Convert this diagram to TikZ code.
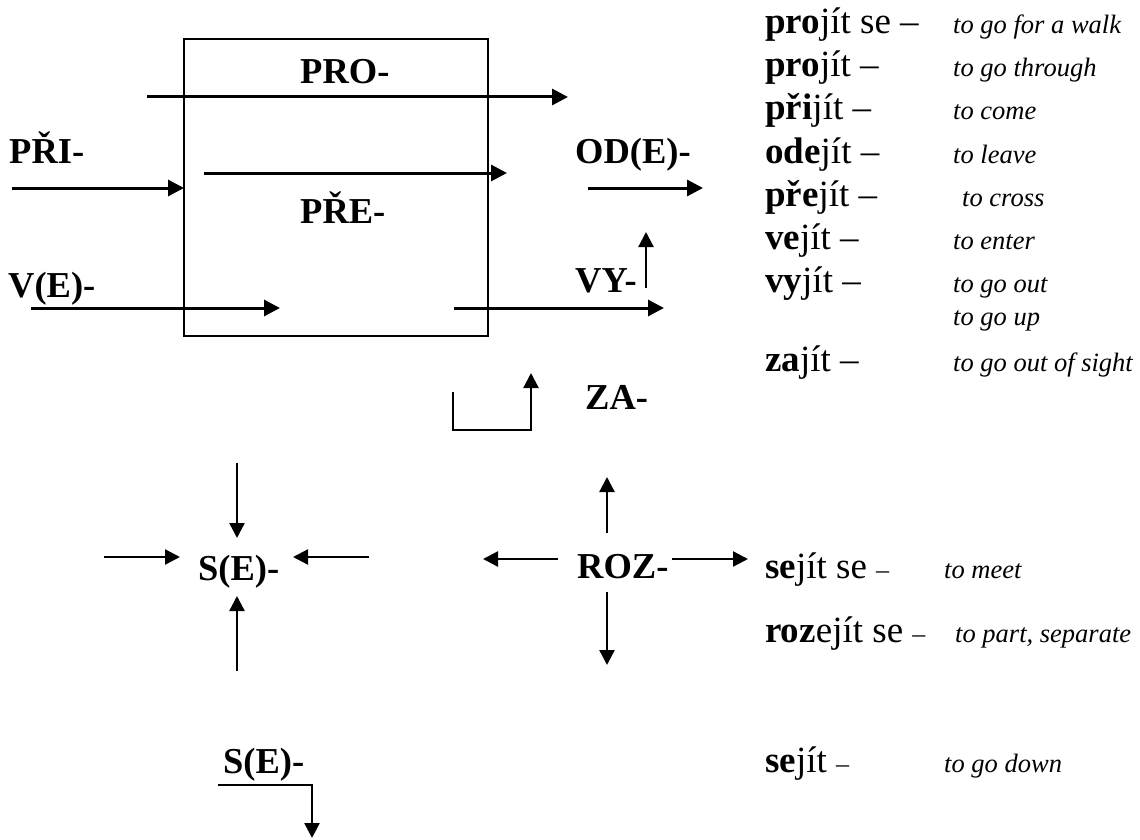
\documentclass[tikz,border=0pt]{standalone}
\usepackage{fontspec}
\setmainfont{Liberation Serif}
\usetikzlibrary{arrows.meta}
\begin{document}
\begin{tikzpicture}[x=1pt,y=-1pt,
  lbl/.style={font=\fontsize{36.5}{40}\selectfont\bfseries, inner sep=0, anchor=base west},
  cz/.style={font=\fontsize{37}{40}\selectfont, inner sep=0, anchor=base west},
  en/.style={font=\fontsize{26.5}{30}\selectfont\itshape, inner sep=0, anchor=base west},
  arr/.style={-{Triangle[length=16pt,width=16pt]}, line width=3pt},
  tarr/.style={-{Triangle[length=15pt,width=15pt]}, line width=2.3pt},
  boxline/.style={line width=2.2pt}]
\useasboundingbox (0,0) rectangle (1140,840);
% main box
\node[draw, boxline, inner sep=0, minimum width=304pt, minimum height=297pt] (box) at (336,187.5) {};
% labels
\node[lbl] (pro) at (300,84) {PRO-};
\node[lbl] (pri) at (9,163) {PŘI-};
\node[lbl] (pre) at (300,223) {PŘE-};
\node[lbl] (ve) at (8,297) {V(E)-};
\node[lbl] (od) at (575,163) {OD(E)-};
\node[lbl] (vy) at (575,292) {VY-};
\node[lbl] (za) at (585,409) {ZA-};
\node[lbl] (roz) at (577,578) {ROZ-};
\node[lbl] (se) at (198,580) {S(E)-};
\node[lbl] (se2) at (223,773) {S(E)-};
% coordinates for arrows
\coordinate (proA) at (147,97);   \coordinate (proB) at (568,97);
\coordinate (preA) at (204,173);  \coordinate (preB) at (507,173);
\coordinate (priA) at (12,188);   \coordinate (priB) at (184,188);
\coordinate (veA) at (31,308);    \coordinate (veB) at (280,308);
\coordinate (vyA) at (454,308);   \coordinate (vyB) at (664,308);
\coordinate (odA) at (588,188);   \coordinate (odB) at (703,188);
\coordinate (vuA) at (646,288);   \coordinate (vuB) at (646,232);
\coordinate (za1) at (453,392); \coordinate (za2) at (453,430); \coordinate (za3) at (531,430); \coordinate (za4) at (531,373);
\coordinate (ru1) at (607,533); \coordinate (ru2) at (607,477);
\coordinate (rl1) at (558,559); \coordinate (rl2) at (483,559);
\coordinate (rr1) at (672,559); \coordinate (rr2) at (748,559);
\coordinate (rd1) at (607,592); \coordinate (rd2) at (607,665);
\coordinate (sd1) at (237,463); \coordinate (sd2) at (237,538);
\coordinate (sr1) at (104,557); \coordinate (sr2) at (180,557);
\coordinate (sl1) at (369,557); \coordinate (sl2) at (293,557);
\coordinate (su1) at (237,671); \coordinate (su2) at (237,596);
\coordinate (b1) at (218,785); \coordinate (b2) at (312,785); \coordinate (b3) at (312,838);
% arrows
\draw[arr] (proA) -- (proB);
\draw[arr] (preA) -- (preB);
\draw[arr] (priA) -- (priB);
\draw[arr] (veA) -- (veB);
\draw[arr] (vyA) -- (vyB);
\draw[arr] (odA) -- (odB);
\draw[tarr] (vuA) -- (vuB);
\draw[tarr] (za1) -- (za2) -- (za3) -- (za4);
\draw[tarr] (ru1) -- (ru2);
\draw[tarr] (rl1) -- (rl2);
\draw[tarr] (rr1) -- (rr2);
\draw[tarr] (rd1) -- (rd2);
\draw[tarr] (sd1) -- (sd2);
\draw[tarr] (sr1) -- (sr2);
\draw[tarr] (sl1) -- (sl2);
\draw[tarr] (su1) -- (su2);
\draw[tarr] (b1) -- (b2) -- (b3);
% right column
\node[cz] (c1) at (765,34) {\textbf{pro}jít se –};
\node[cz] (c2) at (765,77) {\textbf{pro}jít –};
\node[cz] (c3) at (765,120) {\textbf{při}jít –};
\node[cz] (c4) at (765,163) {\textbf{ode}jít –};
\node[cz] (c5) at (765,206) {\textbf{pře}jít –};
\node[cz] (c6) at (765,249) {\textbf{ve}jít –};
\node[cz] (c7) at (765,292) {\textbf{vy}jít –};
\node[cz] (c8) at (765,371) {\textbf{za}jít –};
\node[en] (e1) at (953,34) {to go for a walk};
\node[en] (e2) at (953,77) {to go through};
\node[en] (e3) at (953,120) {to come};
\node[en] (e4) at (953,163) {to leave};
\node[en] (e5) at (962,206) {to cross};
\node[en] (e6) at (953,249) {to enter};
\node[en] (e7) at (953,292) {to go out};
\node[en] (e7b) at (953,325) {to go up};
\node[en] (e8) at (953,371) {to go out of sight};
% bottom right
\node[cz] (c9) at (765,578) {\textbf{se}jít se {\fontsize{26}{30}\selectfont –}};
\node[cz] (c10) at (765,642) {\textbf{roz}ejít se {\fontsize{26}{30}\selectfont –}};
\node[cz] (c11) at (765,772) {\textbf{se}jít {\fontsize{26}{30}\selectfont –}};
\node[en] (e9) at (944,578) {to meet};
\node[en] (e10) at (955,642) {to part, separate};
\node[en] (e11) at (944,772) {to go down};
\end{tikzpicture}
\end{document}
